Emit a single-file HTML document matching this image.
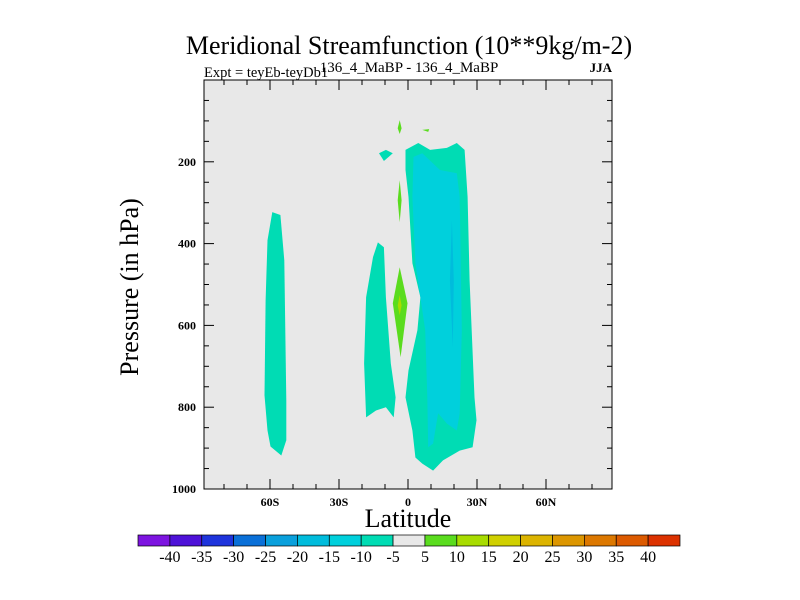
<!DOCTYPE html>
<html><head><meta charset="utf-8"><style>
body{margin:0;background:#fff;}
svg{display:block;font-family:"Liberation Serif",serif;}
</style></head><body>
<svg id="chart" width="800" height="600" viewBox="0 0 800 600" xmlns="http://www.w3.org/2000/svg">
<text x="409" y="54" font-size="26" text-anchor="middle">Meridional Streamfunction (10**9kg/m-2)</text>
<text x="204" y="77" font-size="14.5">Expt = teyEb-teyDb1</text>
<text x="409" y="72" font-size="15" text-anchor="middle">136_4_MaBP - 136_4_MaBP</text>
<text x="612" y="72" font-size="13" font-weight="bold" text-anchor="end">JJA</text>
<rect x="204" y="80" width="408" height="409" fill="#e8e8e8"/>
<g id="contours"></g>
<rect x="204" y="80" width="408" height="409" fill="none" stroke="#000" stroke-width="1"/>
<g id="axes"></g>
<text x="0" y="0" font-size="26" text-anchor="middle" transform="translate(138,287) rotate(-90)">Pressure (in hPa)</text>
<text x="408" y="527" font-size="26" text-anchor="middle">Latitude</text>
<g id="colorbar"></g>
</svg>
<script>
const levels = [-40,-35,-30,-25,-20,-15,-10,-5,5,10,15,20,25,30,35,40];
const colors = ["#7d14e0","#4e12d8","#1e34dc","#0a70d8","#0aa0dc","#00bcdc","#00d0dc","#00dcb4","#e8e8e8","#5adc1e","#a8dc00","#d0d000","#dcb400","#dc9600","#dc7800","#dc5a00","#dc3200"];
const latTicks = [-60,-30,0,30,60];
const latTickLabels = ["60S","30S","0","30N","60N"];
const pTicks = [200,400,600,800,1000];
const regionLevels = [7,6,5,7,7,7,9,9,9,9,10];
const regionShapes = [
 [[-1.1,171],[4.5,154],[9.6,171],[16.9,166],[21.2,154],[24.6,171],[25.9,286],[26.8,490],[28.9,776],[29.8,832],[28.1,898],[22.5,906],[15.2,930],[10.9,955],[6.2,938],[3.2,923],[1.9,857],[-1.1,776],[0.2,710],[4.1,612],[5.4,531],[1.9,448],[0.2,286],[-1.1,220]],
 [[2.4,188],[6.2,179],[13.9,220],[21.2,228],[22.5,286],[23.4,612],[22.5,815],[21.2,857],[16.9,840],[13.1,815],[10.9,889],[8.8,898],[8.4,776],[7.5,612],[5.4,531],[3.2,448],[1.9,286]],
 [[19.1,343],[19.9,490],[19.5,654],[18.2,490]],
 [[-59,323],[-55.5,330],[-53.8,441],[-52.9,783],[-52.9,881],[-55.1,918],[-59.8,896],[-61.1,857],[-62.4,771],[-61.9,539],[-61.1,392]],
 [[-13.1,397],[-10.5,409],[-9.6,531],[-7.5,693],[-5.4,776],[-6.2,825],[-9.6,800],[-13.9,808],[-18.2,825],[-19.1,693],[-18.2,531],[-15.2,433]],
 [[-12.6,179],[-9.6,171],[-6.6,179],[-8.4,188],[-10.5,198]],
 [[-3.6,98],[-2.8,118],[-3.6,132],[-4.5,118]],
 [[6.2,122],[9.2,120],[8.8,127]],
 [[-3.6,245],[-2.8,294],[-3.6,348],[-4.5,294]],
 [[-3.6,458],[-0.2,546],[-3.2,678],[-6.6,546]],
 [[-3.6,526],[-2.8,551],[-3.6,575],[-4.5,551]]
];
const X0=204,X1=612,Y0=80,Y1=489,LATMIN=-88.7,LATMAX=88.7,PMIN=0,PMAX=1000;
function xs(lat){return X0+(lat-LATMIN)/(LATMAX-LATMIN)*(X1-X0);}
function ys(p){return Y0+(p-PMIN)/(PMAX-PMIN)*(Y1-Y0);}
const NS="http://www.w3.org/2000/svg";
function mk(tag,attrs,parent){const e=document.createElementNS(NS,tag);for(const k in attrs)e.setAttribute(k,attrs[k]);parent.appendChild(e);return e;}
const cg=document.getElementById('contours');
regionShapes.forEach((sh,i)=>{
 const pts=sh.map(d=>xs(d[0]).toFixed(1)+","+ys(d[1]).toFixed(1)).join(" ");
 const e=mk('polygon',{points:pts,fill:colors[regionLevels[i]]},cg);
 
 
});
const ax=document.getElementById('axes');
for(let lat=-80;lat<=80;lat+=10){
 const x=xs(lat),major=lat%30===0,len=major?10:5;
 const t1=mk('line',{x1:x,x2:x,y1:Y1,y2:Y1-len,stroke:"#000"},ax);
 
 
 const t2=mk('line',{x1:x,x2:x,y1:Y0,y2:Y0+len,stroke:"#000"},ax);
 
 
}
latTicks.forEach((lat,i)=>{
 const t=mk('text',{x:xs(lat),y:Y1+17,"font-size":12,"font-weight":"bold","text-anchor":"middle"},ax);
 t.textContent=latTickLabels[i];
 
 
});
for(let p=50;p<=1000;p+=50){
 const y=ys(p),major=p%200===0,len=major?10:5;
 const t1=mk('line',{x1:X0,x2:X0+len,y1:y,y2:y,stroke:"#000"},ax);
 
 
 const t2=mk('line',{x1:X1,x2:X1-len,y1:y,y2:y,stroke:"#000"},ax);
 
 
}
pTicks.forEach(p=>{
 const t=mk('text',{x:X0-8,y:ys(p)+4,"font-size":12,"font-weight":"bold","text-anchor":"end"},ax);
 t.textContent=String(p);
 
 
});
const cb=document.getElementById('colorbar');
const CB0=138,CB1=680,CBY=535,CBH=11,bw=(CB1-CB0)/colors.length;
colors.forEach((c,i)=>{
 const r=mk('rect',{x:CB0+i*bw,y:CBY,width:bw,height:CBH,fill:c,stroke:"#000","stroke-width":0.7},cb);
 
 
});
levels.forEach((l,i)=>{
 const t=mk('text',{x:CB0+(i+1)*bw,y:CBY+27,"font-size":16,"text-anchor":"middle"},cb);
 t.textContent=String(l);
 
 
});
</script>
</body></html>
